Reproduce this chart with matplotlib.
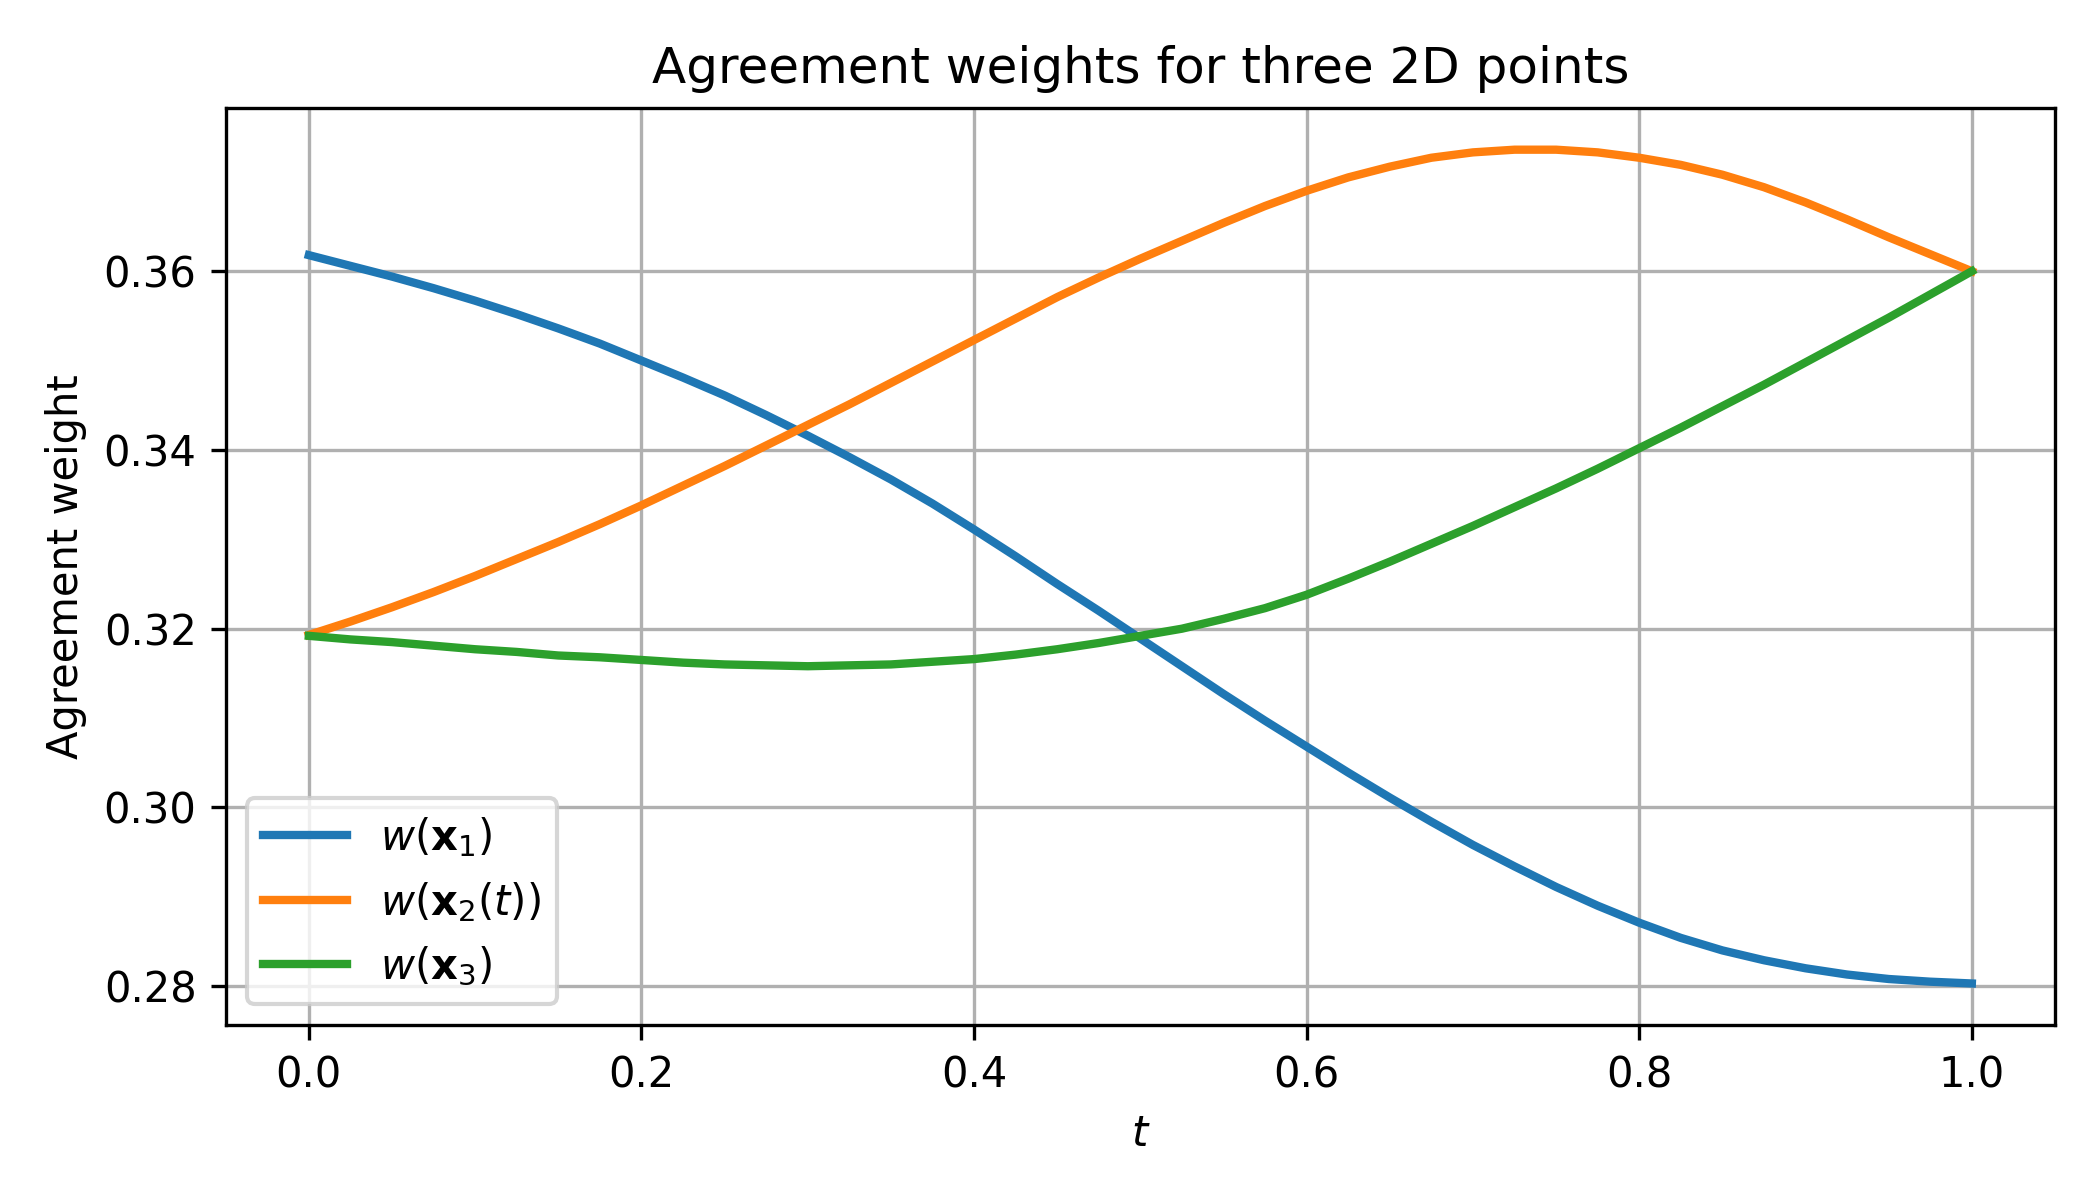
import numpy as np
import matplotlib
matplotlib.use('Agg')
import matplotlib.pyplot as plt

# values at t = 0, 0.025, ..., 1.0
t = [0.000, 0.025, 0.050, 0.075, 0.100, 0.125, 0.150, 0.175, 0.200, 0.225,
     0.250, 0.275, 0.300, 0.325, 0.350, 0.375, 0.400, 0.425, 0.450, 0.475,
     0.500, 0.525, 0.550, 0.575, 0.600, 0.625, 0.650, 0.675, 0.700, 0.725,
     0.750, 0.775, 0.800, 0.825, 0.850, 0.875, 0.900, 0.925, 0.950, 0.975,
     1.000]
w1 = [0.3618, 0.3606, 0.3594, 0.3581, 0.3567, 0.3552, 0.3536, 0.3519, 0.3500, 0.3481,
      0.3461, 0.3439, 0.3416, 0.3392, 0.3367, 0.3340, 0.3311, 0.3281, 0.3250, 0.3220,
      0.3189, 0.3158, 0.3127, 0.3097, 0.3068, 0.3039, 0.3011, 0.2984, 0.2958, 0.2934,
      0.2911, 0.2890, 0.2871, 0.2854, 0.2840, 0.2829, 0.2820, 0.2813, 0.2808, 0.2805,
      0.2803]
w2 = [0.3193, 0.3208, 0.3224, 0.3241, 0.3259, 0.3278, 0.3297, 0.3317, 0.3338, 0.3360,
      0.3382, 0.3405, 0.3428, 0.3451, 0.3475, 0.3499, 0.3523, 0.3547, 0.3571, 0.3593,
      0.3614, 0.3634, 0.3654, 0.3673, 0.3690, 0.3705, 0.3717, 0.3727, 0.3733, 0.3736,
      0.3736, 0.3733, 0.3727, 0.3719, 0.3708, 0.3694, 0.3677, 0.3658, 0.3638, 0.3619,
      0.3600]
w3 = [0.3192, 0.3188, 0.3185, 0.3181, 0.3177, 0.3174, 0.3170, 0.3168, 0.3165, 0.3162,
      0.3160, 0.3159, 0.3158, 0.3159, 0.3160, 0.3163, 0.3166, 0.3171, 0.3177, 0.3184,
      0.3192, 0.3200, 0.3211, 0.3223, 0.3238, 0.3256, 0.3275, 0.3295, 0.3315, 0.3336,
      0.3357, 0.3379, 0.3402, 0.3425, 0.3449, 0.3473, 0.3498, 0.3523, 0.3548, 0.3574,
      0.3600]

labels = [r'$w(\mathbf{x}_1)$', r'$w(\mathbf{x}_2(t))$', r'$w(\mathbf{x}_3)$']

fig, ax = plt.subplots(figsize=(7, 4), dpi=300)
ax.plot(t, w1, lw=2, label=labels[0])
ax.plot(t, w2, lw=2, label=labels[1])
ax.plot(t, w3, lw=2, label=labels[2])

ax.set_title('Agreement weights for three 2D points')
ax.set_xlabel('$t$')
ax.set_ylabel('Agreement weight')
ax.set_yticks([0.28, 0.30, 0.32, 0.34, 0.36])
ax.grid(True)
ax.legend(loc='lower left')
fig.tight_layout()
fig.savefig('out.png', dpi=300)
